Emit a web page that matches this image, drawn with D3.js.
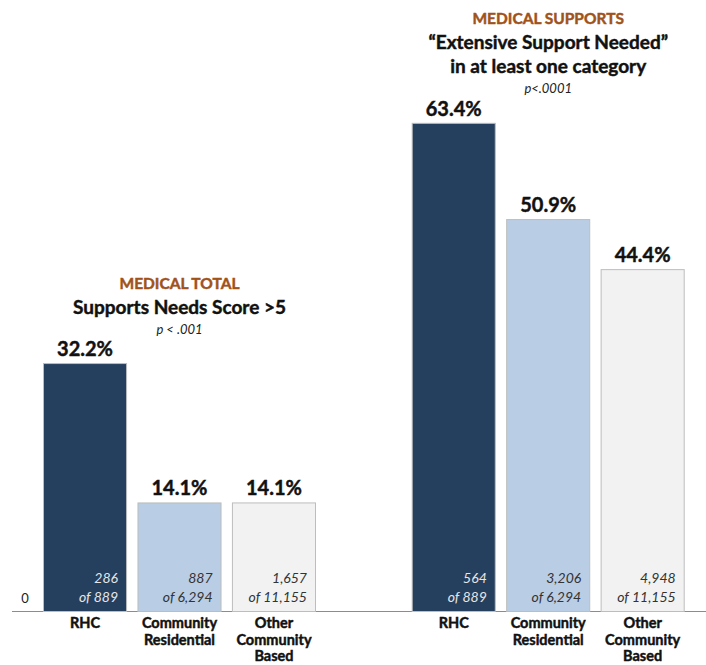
<!DOCTYPE html>
<html><head><meta charset="utf-8">
<script src="https://cdn.jsdelivr.net/npm/d3@7"></script>
<style>body{margin:0;background:#fff}svg{display:block;font-family:Lato,"Open Sans",sans-serif}
.b{stroke-width:0.45px;paint-order:stroke}</style>
</head><body><svg id="c" width="706" height="665"></svg>
<script>
const groups = ["MEDICAL TOTAL", "MEDICAL SUPPORTS"];
const categories = ["RHC", "Community Residential", "Other Community Based"];
const categoryLines = [["RHC"], ["Community", "Residential"], ["Other", "Community", "Based"]];
const medicalTotal = [32.2, 14.1, 14.1];
const medicalSupports = [63.4, 50.9, 44.4];
const totalCounts = [["286", "of 889"], ["887", "of 6,294"], ["1,657", "of 11,155"]];
const supportCounts = [["564", "of 889"], ["3,206", "of 6,294"], ["4,948", "of 11,155"]];
const groupTitles = [
  ["Supports Needs Score >5"],
  ["\u201cExtensive Support Needed\u201d", "in at least one category"]
];
const pValues = ["p < .001", "p<.0001"];
const yTicks = [0];

const colors = ["#253f5e", "#b9cde5", "#f2f2f2"];
const textColors = ["#e6e6e6", "#333", "#333"];
const svg = d3.select("#c");
const base = 611;
const y = d3.scaleLinear().domain([0, 70]).range([base, base - 539]);
const gx = d3.scaleBand().domain(groups).range([43, 43 + 368.7 * 2]).paddingInner(0).paddingOuter(0);
const inner = d3.scaleBand().domain(categories).range([0, 273]).paddingInner(0.11).paddingOuter(0);

const series = [medicalTotal, medicalSupports];
const counts = [totalCounts, supportCounts];

svg.append("line").attr("x1", 12).attr("x2", 706).attr("y1", base + 0.5).attr("y2", base + 0.5)
  .attr("stroke", "#8c8c8c").attr("stroke-width", 1.2);
svg.selectAll(".ytick").data(yTicks).join("text")
  .attr("x", 25).attr("y", d => y(d) - 8).attr("text-anchor", "middle")
  .attr("font-size", 13).attr("fill", "#222").text(d => d);

groups.forEach((g, gi) => {
  const g0 = gx(g);
  const cx = g0 + 273 / 2;
  const gs = svg.append("g");
  const vals = series[gi];
  gs.selectAll("rect").data(vals).join("rect")
    .attr("x", (d, i) => g0 + inner(categories[i]) + 0.5)
    .attr("y", d => y(d) + 0.5)
    .attr("width", inner.bandwidth() - 1)
    .attr("height", d => base - y(d))
    .attr("fill", (d, i) => colors[i])
    .attr("stroke", "#bdbdbd").attr("stroke-width", 1);
  gs.selectAll(".val").data(vals).join("text").attr("class", "b")
    .attr("x", (d, i) => g0 + inner(categories[i]) + inner.bandwidth() / 2)
    .attr("y", d => y(d) - 7)
    .attr("text-anchor", "middle").attr("font-weight", "bold").attr("font-size", 20)
    .attr("fill", "#111").attr("stroke", "#111").text(d => d.toFixed(1) + "%");
  counts[gi].forEach((c, i) => {
    const xr = g0 + inner(categories[i]) + inner.bandwidth() - 9;
    c.forEach((line, li) => {
      gs.append("text").attr("x", xr).attr("y", 583 + li * 19)
        .attr("text-anchor", "end").attr("font-style", "italic").attr("font-size", 14)
        .attr("fill", textColors[i]).text(line);
    });
  });
  categoryLines.forEach((lines, i) => {
    lines.forEach((line, li) => {
      gs.append("text").attr("class", "b").attr("x", g0 + inner(categories[i]) + inner.bandwidth() / 2)
        .attr("y", 628 + li * 16.5).attr("text-anchor", "middle")
        .attr("font-weight", "bold").attr("font-size", 14.5).attr("fill", "#111").attr("stroke", "#111").text(line);
    });
  });
  const top = gi === 0 ? 289 : 24;
  gs.append("text").attr("class", "b").attr("x", cx).attr("y", top).attr("text-anchor", "middle")
    .attr("font-weight", "bold").attr("font-size", 15.5).attr("fill", "#a0521b").attr("stroke", "#a0521b").text(g);
  groupTitles[gi].forEach((t, ti) => {
    gs.append("text").attr("class", "b").attr("x", cx).attr("y", top + 25 + ti * 24).attr("text-anchor", "middle")
      .attr("font-weight", "bold").attr("font-size", 19).attr("fill", "#111").attr("stroke", "#111").text(t);
  });
  gs.append("text").attr("x", cx).attr("y", top + 25 + (groupTitles[gi].length - 1) * 24 + 20)
    .attr("text-anchor", "middle").attr("font-style", "italic").attr("font-size", 13)
    .attr("fill", "#222").text(pValues[gi]);
});
</script></body></html>
